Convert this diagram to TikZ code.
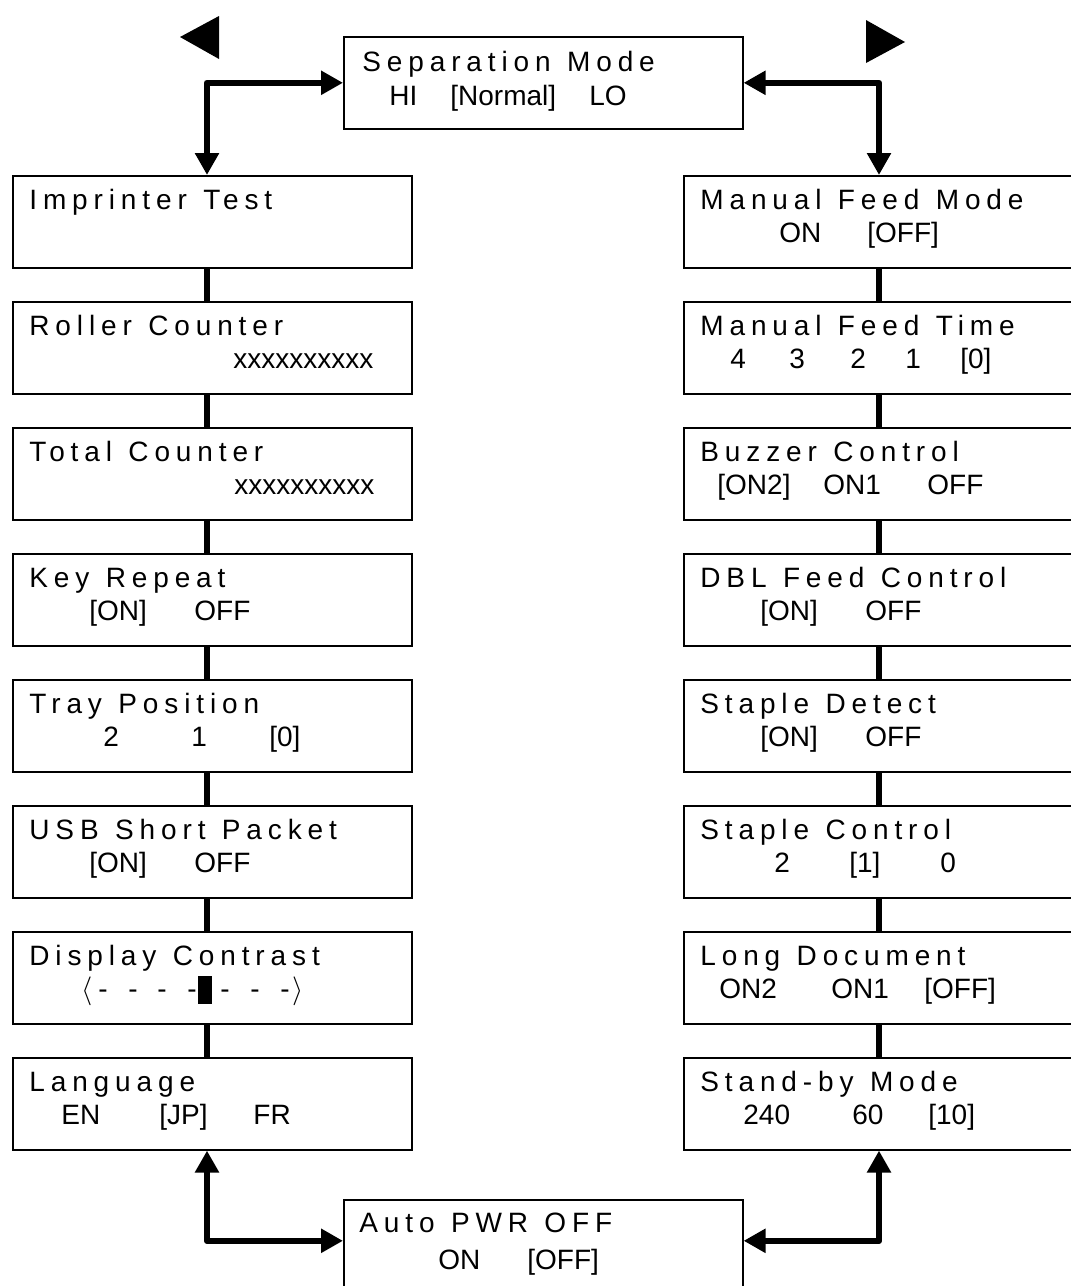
\documentclass[tikz,border=0pt]{standalone}
\usepackage{fontspec}
\setmainfont{Liberation Sans}
\newfontfamily\spaced[LetterSpace=21,WordSpace=1.2]{Liberation Sans}
\usetikzlibrary{arrows.meta}
\newdimen\pxu \pxu=0.5pt
\newcommand{\valat}[2]{\rlap{\hspace*{#1\pxu}#2}}
\begin{document}
\begin{tikzpicture}
[x=0.5pt,y=-0.5pt,
 font=\fontsize{14}{17}\selectfont,
 menubox/.style={shape=rectangle,draw,line width=0.8pt,inner sep=0pt,
   minimum width=199.5pt,minimum height=46pt,anchor=north west},
 boxtitle/.style={anchor=base west,inner sep=0pt,font=\fontsize{14}{17}\selectfont\spaced},
 boxvalue/.style={anchor=base west,inner sep=0pt},
 linkline/.style={-,line width=3.4pt},
 twoway/.style={{Triangle[length=11pt,width=11.5pt]}-{Triangle[length=11pt,width=11.5pt]},
   line width=3.2pt,line join=round}]
\useasboundingbox (0,0) rectangle (1071,1286);
\clip (0,0) rectangle (1071,1286);
%% column axes
\coordinate (lx) at (207,0);
\coordinate (rx) at (879,0);
%% left column
\foreach \nm/\ttl/\vals [count=\row from 0] in {imp/Imprinter Test/{},
  roll/Roller Counter/{\valat{220}{xxxxxxxxxx}},
  tot/Total Counter/{\valat{221}{xxxxxxxxxx}},
  keyr/Key Repeat/{\valat{76}{[ON]}\valat{181}{OFF}},
  tray/Tray Position/{\valat{90}{2}\valat{178}{1}\valat{256}{[0]}},
  usb/USB Short Packet/{\valat{76}{[ON]}\valat{181}{OFF}},
  disp/Display Contrast/{\valat{68}{$\langle$}\valat{85}{-}\valat{115}{-}\valat{144}{-}%
    \valat{174}{-}\valat{185}{\rule[-3pt]{7pt}{14pt}}\valat{207}{-}\valat{237}{-}%
    \valat{267}{-}\valat{279}{$\rangle$}},
  lang/Language/{\valat{48}{EN}\valat{146}{[JP]}\valat{240}{FR}}} {
  \node[menubox] (\nm) at (12,{175+126*\row}) {};
  \node[boxtitle] (\nm-t) at ([shift={(17,34)}]\nm.north west) {\ttl};
  \node[boxvalue] (\nm-v) at ([shift={(0,67)}]\nm.north west) {\vals};
}
%% right column
\foreach \nm/\ttl/\vals [count=\row from 0] in {mfm/Manual Feed Mode/{\valat{95}{ON}\valat{183}{[OFF]}},
  mft/Manual Feed Time/{\valat{46}{4}\valat{105}{3}\valat{166}{2}\valat{221}{1}\valat{276}{[0]}},
  buz/Buzzer Control/{\valat{33}{[ON2]}\valat{139}{ON1}\valat{243}{OFF}},
  dbl/DBL Feed Control/{\valat{76}{[ON]}\valat{181}{OFF}},
  sdet/Staple Detect/{\valat{76}{[ON]}\valat{181}{OFF}},
  sctl/Staple Control/{\valat{90}{2}\valat{165}{[1]}\valat{256}{0}},
  longd/Long Document/{\valat{35}{ON2}\valat{147}{ON1}\valat{240}{[OFF]}},
  stby/Stand-by Mode/{\valat{59}{240}\valat{168}{60}\valat{244}{[10]}}} {
  \node[menubox] (\nm) at (683,{175+126*\row}) {};
  \node[boxtitle] (\nm-t) at ([shift={(17,34)}]\nm.north west) {\ttl};
  \node[boxvalue] (\nm-v) at ([shift={(0,67)}]\nm.north west) {\vals};
}
%% top and bottom boxes
\node[menubox] (sep) at (343,36) {};
\node[boxtitle] (sep-t) at ([shift={(19,35)}]sep.north west) {Separation Mode};
\node[boxvalue] (sep-v) at ([shift={(0,69)}]sep.north west)
  {\valat{45}{HI}\valat{106}{[Normal]}\valat{245}{LO}};
\node[menubox] (apwr) at (343,1199) {};
\node[boxtitle] (apwr-t) at ([shift={(16,33)}]apwr.north west) {Auto PWR OFF};
\node[boxvalue] (apwr-v) at ([shift={(0,70)}]apwr.north west)
  {\valat{94}{ON}\valat{183}{[OFF]}};
%% links
\foreach \a/\b in {imp/roll, roll/tot, tot/keyr, keyr/tray, tray/usb, usb/disp, disp/lang}
  \draw[linkline] (\a.south -| lx) -- (\b.north -| lx);
\foreach \a/\b in {mfm/mft, mft/buz, buz/dbl, dbl/sdet, sdet/sctl, sctl/longd, longd/stby}
  \draw[linkline] (\a.south -| rx) -- (\b.north -| rx);
\draw[twoway] (imp.north -| lx) |- (sep.west);
\draw[twoway] (sep.east) -| (mfm.north -| rx);
\draw[twoway] (lang.south -| lx) |- ([shift={(0,-5)}]apwr.west);
\draw[twoway] ([shift={(0,-5)}]apwr.east) -| (stby.south -| rx);
%% scroll marks
\fill (180,37) -- (219,16) -- (219,59) -- cycle;
\fill (905,42) -- (866,20) -- (866,63) -- cycle;
\end{tikzpicture}
\end{document}
